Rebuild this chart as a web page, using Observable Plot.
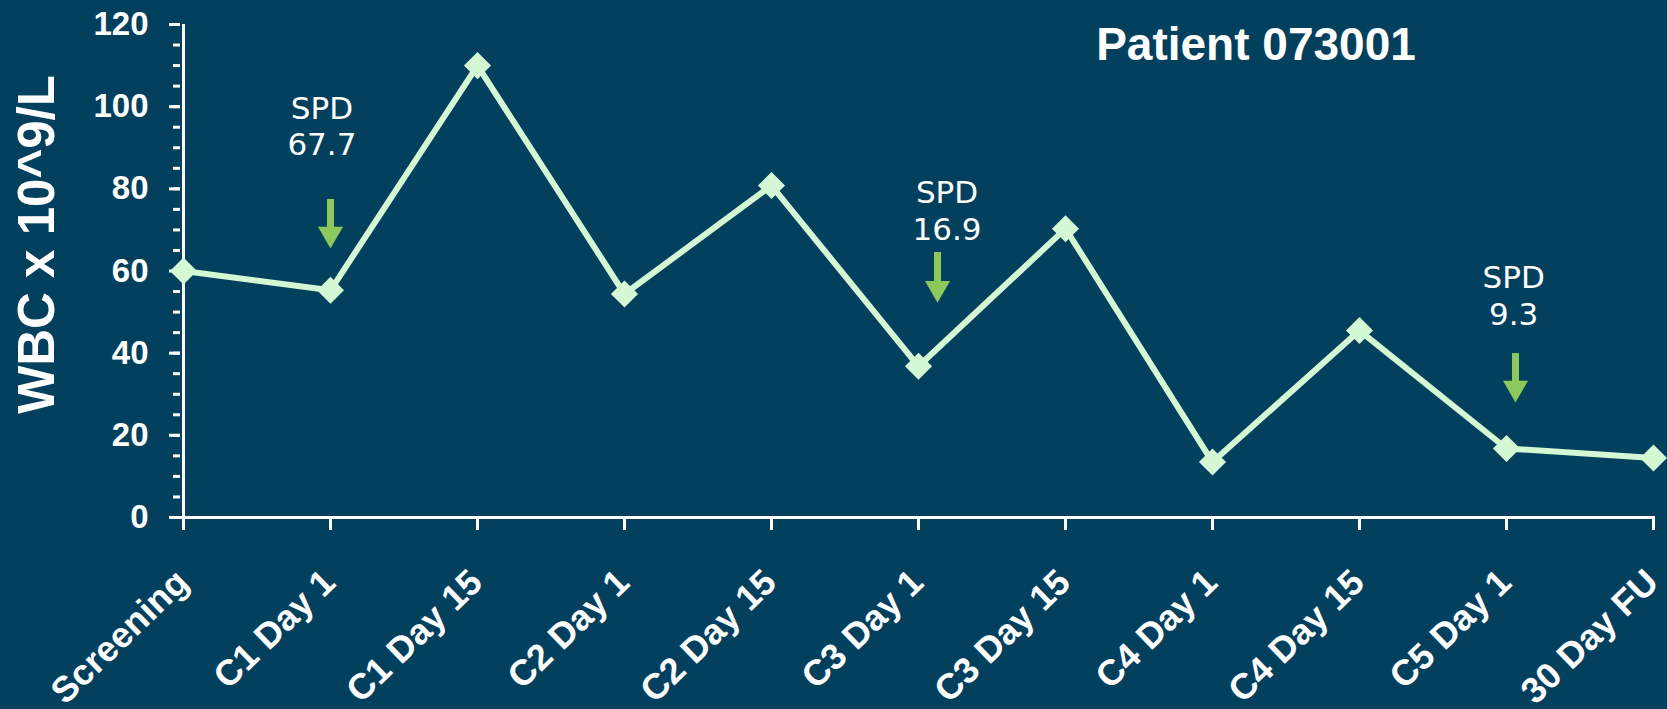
<!DOCTYPE html>
<html>
<head>
<meta charset="utf-8">
<script src="https://cdn.jsdelivr.net/npm/d3@7"></script>
<script src="https://cdn.jsdelivr.net/npm/@observablehq/plot@0.6"></script>
<style>
  html, body { margin: 0; padding: 0; background: #03405e; }
</style>
</head>
<body>
<div id="chart"></div>
<script>
// ---- data ----
const visits = ["Screening", "C1 Day 1", "C1 Day 15", "C2 Day 1", "C2 Day 15", "C3 Day 1",
                "C3 Day 15", "C4 Day 1", "C4 Day 15", "C5 Day 1", "30 Day FU"];
const wbc = [60, 55.3, 110, 54.4, 80.8, 36.8, 70.3, 13.5, 45.5, 16.8, 14.5];
const yTicks = [0, 20, 40, 60, 80, 100, 120];
const yMinorTicks = [0, 5, 10, 15, 20, 25, 30, 35, 40, 45, 50, 55, 60, 65, 70, 75, 80, 85, 90, 95, 100, 105, 110, 115, 120];
const yLabel = "WBC x 10^9/L";
const title = "Patient 073001";

// SPD annotations
const spdVisits = ["C1 Day 1", "C3 Day 1", "C5 Day 1"];
const spdValues = ["67.7", "16.9", "9.3"];
const spdLabelY = [103.4, 82.8, 62.1];
const arrowTopY = [77.4, 64.5, 39.9];
const arrowTipY = [65.5, 52.3, 28.0];

// ---- layout/styles ----
const labelDx = [-8.6, 28.5, 7.2];
const arrowDx = [0, 19, 9];
const bg = "#03405e", mint = "#d4f8d4", green = "#8cc85c";

const data = visits.map((v, i) => ({visit: v, wbc: wbc[i]}));
const spd = spdVisits.map((v, i) => ({
  visit: v, label: `SPD\n${spdValues[i]}`, labelY: spdLabelY[i], top: arrowTopY[i], tip: arrowTipY[i]
}));

const annotationMarks = spd.flatMap((d, i) => [
  Plot.ruleX([d], {x: "visit", y1: "top", y2: "tip", dx: arrowDx[i], stroke: green, strokeWidth: 7, insetBottom: 14}),
  Plot.dot([d], {x: "visit", y: "tip", dx: arrowDx[i], dy: -14.4, symbol: "triangle", rotate: 180, r: 9.3, fill: green, stroke: "none"}),
  Plot.text([d], {x: "visit", y: "labelY", text: "label", dx: labelDx[i], lineAnchor: "top", lineHeight: 1.18,
    fontSize: 31, fontFamily: "DejaVu Sans", fill: "white"})
]);

const chart = Plot.plot({
  width: 1667,
  height: 709,
  marginLeft: 180,
  marginRight: 12,
  marginTop: 24,
  marginBottom: 192,
  style: {background: bg, color: "white", fontFamily: "'Liberation Sans', Arial, sans-serif", overflow: "visible"},
  x: {type: "point", domain: visits, padding: 0, label: null},
  y: {domain: [0, 120], label: null},
  marks: [
    Plot.axisY({ticks: yMinorTicks, tickSize: 7, tickFormat: () => "", strokeWidth: 3, label: null}),
    Plot.axisY({ticks: yTicks, tickSize: 11, tickPadding: 21, fontSize: 33, fontWeight: "bold", strokeWidth: 3, label: null}),
    Plot.axisX({tickSize: 13, tickFormat: () => "", strokeWidth: 3, label: null}),
    Plot.axisX({tickSize: 0, tickPadding: 59, tickRotate: -44, dx: -1, fontSize: 36, fontWeight: "bold", label: null}),
    Plot.ruleX([visits[0]], {stroke: "white", strokeWidth: 3}),
    Plot.ruleY([0], {stroke: "white", strokeWidth: 3}),
    Plot.line(data, {x: "visit", y: "wbc", stroke: mint, strokeWidth: 6}),
    Plot.dot(data, {x: "visit", y: "wbc", symbol: "diamond2", r: 12.2, fill: mint, stroke: "none"}),
    ...annotationMarks,
    Plot.text([title], {frameAnchor: "top", dx: 338, dy: 35, lineAnchor: "bottom", fontSize: 46, fontWeight: "bold", fill: "white"}),
    Plot.text([yLabel], {frameAnchor: "left", rotate: -90, dx: -143, dy: -26.5, textAnchor: "middle", lineAnchor: "middle", fontSize: 51, fontWeight: "bold", fill: "white"})
  ]
});
document.getElementById("chart").appendChild(chart);
</script>
</body>
</html>
